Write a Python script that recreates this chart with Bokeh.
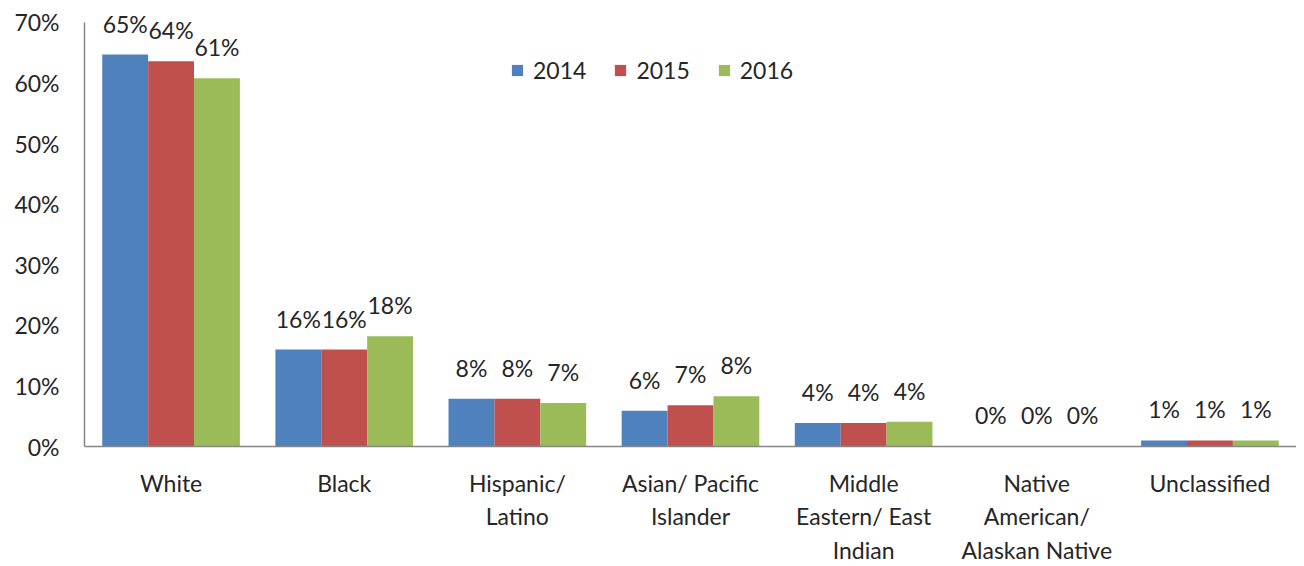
from bokeh.plotting import figure
from bokeh.models import ColumnDataSource, FactorRange, Range1d, FixedTicker, PrintfTickFormatter, Legend, LegendItem, LabelSet
from bokeh.transform import dodge
from bokeh.core.properties import value
from bokeh.embed import file_html
from bokeh.resources import INLINE

categories = ["White", "Black", "Hispanic/\nLatino", "Asian/ Pacific\nIslander",
              "Middle\nEastern/ East\nIndian", "Native\nAmerican/\nAlaskan Native", "Unclassified"]
years = ["2014", "2015", "2016"]
v2014 = [64.7, 16.0, 7.9, 5.9, 3.9, 0.1, 1.0]
v2015 = [63.6, 16.0, 7.9, 6.8, 3.9, 0.1, 1.0]
v2016 = [60.8, 18.2, 7.2, 8.3, 4.1, 0.1, 1.0]
y_ticks = [0, 10, 20, 30, 40, 50, 60, 70]

colors = ["#4F81BD", "#C0504D", "#9BBB59"]
FONT = "Lato"
TXT = "#262626"
FS = "23px"

series = [v2014, v2015, v2016]
offsets = [-0.265, 0.0, 0.265]
bw = 0.265

p = figure(x_range=FactorRange(factors=categories, range_padding=0),
           y_range=Range1d(0, 73.63),
           width=1296, height=566, output_backend="svg", toolbar_location=None,
           min_border_left=84, min_border_right=0, min_border_top=0, min_border_bottom=120)
p.outline_line_color = None
p.xgrid.visible = False
p.ygrid.visible = False
p.background_fill_color = "white"

items = []
for yr, vals, col, off in zip(years, series, colors, offsets):
    src = ColumnDataSource(dict(cat=categories, val=vals,
                                lab=[f"{round(v)}%" for v in vals]))
    r = p.vbar(x=dodge("cat", off, range=p.x_range), top="val", width=bw, bottom=0,
               source=src, fill_color=col, line_color=None)
    labels = LabelSet(x=dodge("cat", off, range=p.x_range), y="val", text="lab", source=src,
                      text_align="center", text_baseline="bottom", y_offset=17,
                      text_font=value(FONT), text_font_size=value(FS), text_color=TXT)
    p.add_layout(labels)
    items.append(LegendItem(label=yr, renderers=[r]))

legend = Legend(items=items, orientation="horizontal", location=(426, 362),
                glyph_width=14, glyph_height=14, label_standoff=9, spacing=27,
                padding=0, margin=0, border_line_color=None, background_fill_alpha=0,
                label_text_font=FONT, label_text_font_size=FS, label_text_color=TXT)
p.add_layout(legend, "center")

p.yaxis.ticker = FixedTicker(ticks=y_ticks)
p.yaxis.formatter = PrintfTickFormatter(format="%d%%")
p.yaxis.bounds = (0, 70)
for ax in (p.xaxis[0], p.yaxis[0]):
    ax.axis_line_color = "#868686"
    ax.axis_line_width = 1.5
    ax.major_tick_line_color = None
    ax.minor_tick_line_color = None
    ax.major_label_text_font = FONT
    ax.major_label_text_font_size = FS
    ax.major_label_text_color = TXT
p.yaxis.major_label_standoff = 19
p.xaxis.major_label_standoff = 16
p.xaxis.major_label_text_line_height = 1.2

open("out.html", "w").write(file_html(p, INLINE))
